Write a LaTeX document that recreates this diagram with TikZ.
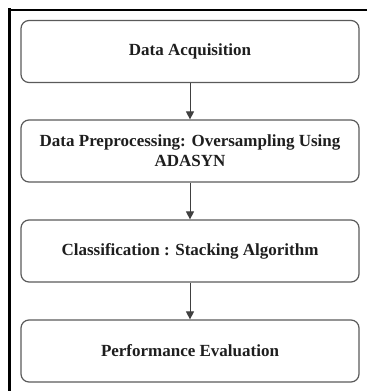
\documentclass[tikz,border=0pt]{standalone}
\usepackage{fontspec}
\setmainfont{Liberation Serif}
\usepackage{xcolor}
\usetikzlibrary{arrows.meta,positioning}
\definecolor{boxgray}{HTML}{5A5A5A}
\definecolor{inkdark}{HTML}{1E1E1E}

\tikzset{
  stage/.style={draw=boxgray,line width=1.2pt,rounded corners=8pt,
    minimum width=338pt,minimum height=62pt,align=center,text=inkdark,
    font=\fontsize{17}{20}\selectfont\bfseries},
  flow/.style={-{Triangle[width=8pt,length=8pt]},line width=0.9pt,draw=inkdark!85}
}

\begin{document}
\begin{tikzpicture}[x=1pt,y=-1pt]
  \useasboundingbox (0,0) rectangle (367,391);
  % outer frame (cut off on the right and at the bottom)
  \draw[line width=2pt,black] (367,9.5) -- (8,9.5);
  \draw[line width=3pt,black] (9.5,8) -- (9.5,391);
  \node[stage] (acq)  at (190,51.5) {Data Acquisition};
  \node[stage] (prep) at (190,151)  {Data Preprocessing: Oversampling Using\\ADASYN};
  \node[stage] (clf)  at (190,251)  {Classification : Stacking Algorithm};
  \node[stage] (eval) at (190,351)  {Performance Evaluation};
  \draw[flow] (acq) -- (prep);
  \draw[flow] (prep) -- (clf);
  \draw[flow] (clf) -- (eval);
\end{tikzpicture}
\end{document}
